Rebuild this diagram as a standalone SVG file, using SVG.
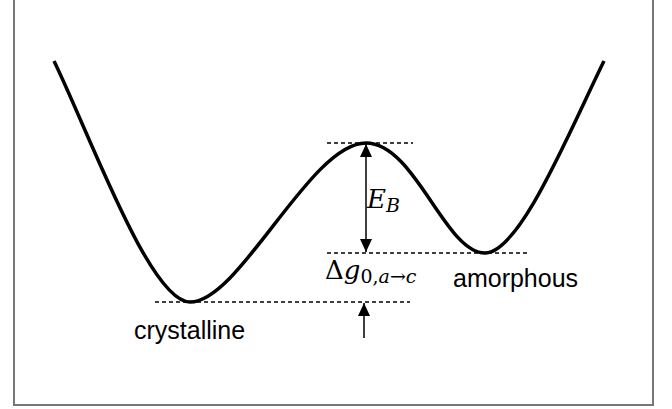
<svg xmlns="http://www.w3.org/2000/svg" width="672" height="409" viewBox="0 0 672 409">
<style>
.curve{fill:none;stroke:#000;stroke-width:3.5;stroke-linecap:butt;stroke-linejoin:round}
.dash{fill:none;stroke:#000;stroke-width:1.5;stroke-dasharray:4 3}
.arr{fill:none;stroke:#000;stroke-width:1.5}
.lbl{font-family:"Liberation Sans",Arial,sans-serif;font-size:25px;fill:#000}
.math{font-family:"DejaVu Serif","Liberation Serif",serif;fill:#000}
</style>
<defs>
<marker id="ah" viewBox="0 0 13 12" refX="13" refY="6" markerWidth="13" markerHeight="12" markerUnits="userSpaceOnUse" orient="auto-start-reverse">
<path d="M0,0 L13,6 L0,12 Z" fill="#000"/>
</marker>
</defs>
<rect x="14" y="-2" width="639" height="407" fill="#fff" stroke="#777" stroke-width="2"/>
<g id="curve">
<path class="curve" d="M54,61 C90,135 150,302 190,302 C240,302 310,143 366,143 C415,143 445,253 485,253 C520,253 570,130 604,61"/>
</g>
<g id="connectors">
<line class="dash" x1="327" y1="143" x2="413" y2="143"/>
<line class="dash" x1="327" y1="253" x2="530" y2="253"/>
<line class="dash" x1="155" y1="302" x2="410" y2="302"/>
<line class="arr" x1="366" y1="144" x2="366" y2="252" marker-start="url(#ah)" marker-end="url(#ah)"/>
<line class="arr" x1="364" y1="338" x2="364" y2="303" marker-end="url(#ah)"/>
</g>
<g id="label-eb">
<text class="math" x="367" y="208" font-size="26" font-style="italic">E<tspan font-size="19" dy="4">B</tspan></text>
</g>
<g id="label-dg">
<text class="math" x="325" y="279" font-size="26">Δ<tspan font-style="italic">g</tspan><tspan font-size="19" dy="4">0,<tspan font-style="italic">a</tspan>→<tspan font-style="italic">c</tspan></tspan></text>
</g>
<g id="label-amorphous">
<text class="lbl" x="453" y="287">amorphous</text>
</g>
<g id="label-crystalline">
<text class="lbl" x="134" y="339">crystalline</text>
</g>
</svg>
